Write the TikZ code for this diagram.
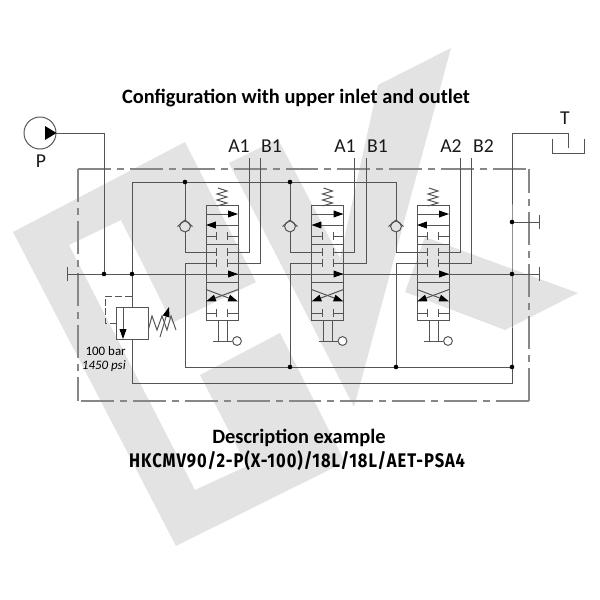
\documentclass[tikz,border=0pt]{standalone}
\usepackage{fontspec}
\usepackage{xcolor}
\setmainfont{Carlito}
\newfontfamily\codefont[FakeStretch=0.84,LetterSpace=5]{Fira Sans}
\usetikzlibrary{
    arrows.meta,
    positioning
}
\definecolor{pipec}{gray}{0.33}
\definecolor{markc}{gray}{0.89}
\tikzset{
    pipe/.style = {draw=pipec,line width=.7pt}
  }
\tikzset{
    housing/.style = {draw=black!47,line width=.8pt,dash pattern=on 23.4pt off 4.25pt on 5pt off 4.25pt}
  }
\tikzset{
    dot/.style = {circle,fill=black,inner sep=0pt,minimum size=.115cm}
  }
\tikzset{
    valvebox/.style = {pipe,inner sep=0pt,minimum width=.8cm,minimum height=2.85cm}
  }
\tikzset{
    checkball/.style = {pipe,circle,inner sep=0pt,minimum size=.27cm}
  }
\tikzset{
    knob/.style = {pipe,circle,fill=white,inner sep=0pt,minimum size=.22cm}
  }
\tikzset{
    flow/.style = {pipe,-{Triangle[length=7pt,width=4.8pt,color=black]}}
  }
\tikzset{
    blockr/.style = {pipe,-{Bar[width=5.7pt]}}
  }
\tikzset{
    capped/.style = {pipe,{Bar[width=10pt]}-{Bar[width=10pt]}}
  }
\tikzset{
    port/.style = {font=\fontsize{14}{14}\selectfont,text=black!90,inner sep=0pt}
  }
\begin{document}
\begin{tikzpicture}[x=.025cm,y=-.025cm]
	\useasboundingbox (0,0) rectangle (600,600);
	\fill[markc] (13,232) -- (185,142) -- (256,282) -- (172,323) -- (121,220) -- (69,245) -- (195,490)
		-- (247,466) -- (200,375) -- (280,333) -- (345,462) -- (176,546) -- cycle;
	\fill[markc] (229,163) -- (278,139) -- (340,258) -- (378,85) -- (451,48) -- (354,407) -- cycle;
	\fill[markc] (425,237) -- (578,293) -- (505,330) -- (405,292) -- cycle;

	\node at (296,98.5) (title) {\fontsize{14.5}{14.5}\selectfont\bfseries Configuration with upper inlet and outlet};
	\node at (299,438) (descr) {\fontsize{14.5}{14.5}\selectfont\bfseries Description example};
	\node at (297,461) (code) {\fontsize{14}{14}\selectfont\codefont\bfseries HKCMV90/2-P(X-100)/18L/18L/AET-PSA4};

	\coordinate (tl) at (78,169);
	\coordinate (tr) at (529,169);
	\coordinate (bl) at (78,401);
	\coordinate (br) at (529,401);
	\draw[housing] (tl) -- (tr);
	\draw[housing] (tl) -- (bl);
	\draw[housing] (br) -- (bl);
	\draw[housing,dash phase=6pt] (tr) -- (br);

	\node at (40,133) [pipe,circle,inner sep=0pt,minimum size=.8cm] (pump) {};
	\fill (45,126) -- (pump.east) -- (45,140) -- cycle;
	\node at (41,161) [port] (plabel) {P};

	\coordinate (jp) at (104,274);
	\coordinate (jr) at (132,274);
	\coordinate (jt) at (512,274);
	\coordinate (jb) at (512,222);
	\coordinate (jc) at (512,367);
	\coordinate (ja) at (185,182);
	\coordinate (jd) at (290,182);
	\coordinate (je) at (290,367);
	\coordinate (jf) at (396,367);
	\coordinate (lineL) at (67,274);
	\coordinate (lineR) at (540,274);
	\coordinate (stubR) at (540,222);
	\draw[capped] (lineL) -- (lineR);
	\draw[pipe,-{Bar[width=10pt]}] (jb) -- (stubR);
	\draw[pipe] (pump.east) -| (jp);

	\node at (565,118) [port] (tlabel) {T};
	\coordinate (tankin) at (568,148);
	\coordinate (retcorner) at (132,383);
	\draw[pipe] (retcorner) -| (jt) |- (512,133) -| (tankin);
	\draw[pipe] (552,139) -- (552,153) -- (584,153) -- (584,139);

	\node at (132,323) [pipe,inner sep=0pt,minimum size=.8cm] (relief) {};
	\draw[pipe] (jr) -- (relief.north);
	\draw[pipe] (relief.south) -- (retcorner);
	\draw[pipe,dash pattern=on 5pt off 2pt] (132,296) -| (105,323) -- (relief.west |- 0,323);
	\draw[pipe,-{Triangle[length=7pt,width=4.8pt,color=black]}] (123,307) -- (123,339);
	\draw[pipe] (relief.east |- 0,329) -- (152,316) -- (157,330) -- (162,316) -- (167,330) -- (171,316) -- (176,330);
	\draw[pipe,-{Triangle[length=7pt,width=4.8pt,color=black]}] (160,337) -- (169,307);
	\node at (126,351) [anchor=east,inner sep=0pt] (lbar) {\fontsize{9.2}{9.2}\selectfont 100 bar};
	\node at (126,366) [anchor=east,inner sep=0pt] (lpsi) {\fontsize{9.2}{9.2}\selectfont\itshape 1450 psi};

	\coordinate (rail) at (132,182);
	\draw[pipe] (jr) -- (rail) -- (396,182);

	\foreach \i/\vx/\cx/\ax/\bx/\la/\lb/\ta/\tb in {
		1/206/185/249/260/239/271.5/A1/B1,
		2/311.5/290/354/366/345/377.5/A1/B1,
		3/417/396/460/471/451/483.5/A2/B2} {
		\node at (\vx+16,263) [valvebox] (valve\i) {};
		\draw[pipe] (\vx,244) -- (\vx+32,244);
		\draw[pipe] (\vx,282) -- (\vx+32,282);
		\draw[pipe] (\vx+11,206) -- (\vx+21,203) -- (\vx+11,200) -- (\vx+21,197) -- (\vx+11,194) -- (\vx+21,191) -- (\vx+12,188);
		\draw[flow] (\vx,214) -- (\vx+32,214);
		\draw[flow] (\vx+32,225) -- (\vx,225);
		\draw[flow] (\vx+20,274) -- (\vx+32,274);
		\foreach \ry in {236,313} {
			\draw[blockr] (\vx,\ry) -- (\vx+11,\ry);
			\draw[blockr] (\vx+32,\ry) -- (\vx+21,\ry);
		}
		\draw[flow] (\vx+32,289.5) -- (\vx,301.5);
		\draw[flow] (\vx,289.5) -- (\vx+32,301.5);
		\draw[pipe] (\vx+12,320) -- (\vx+12,341);
		\draw[pipe] (\vx+21,320) -- (\vx+21,341);
		\node at (\vx+31,341) [knob] (knob\i) {};
		\draw[pipe] (\vx+7,341) -- (knob\i);

		\node at (\la,146) [port] (la\i) {\ta};
		\node at (\lb,146) [port] (lb\i) {\tb};
		\node at (\cx,226.5) [checkball] (check\i) {};
		\draw[pipe] (\cx-7.5,226.5) -- (\cx,220) -- (\cx+7.5,226.5);
		\draw[pipe] (\cx,182) -- (check\i);
		\draw[blockr] (check\i) |- (\vx+11,252);
		\draw[blockr] (\ax,158) |- (\vx+21,252);
		\draw[blockr] (\bx,158) |- (\vx+21,263);
		\draw[blockr] (\cx,367) |- (\vx+11,263);
	}
	\draw[pipe] (185,367) -- (jc);
	\foreach \j in {jp,jr,jt,jb,jc,ja,jd,je,jf} {
		\node at (\j) [dot] (dot\j) {};
	}
\end{tikzpicture}
\end{document}
